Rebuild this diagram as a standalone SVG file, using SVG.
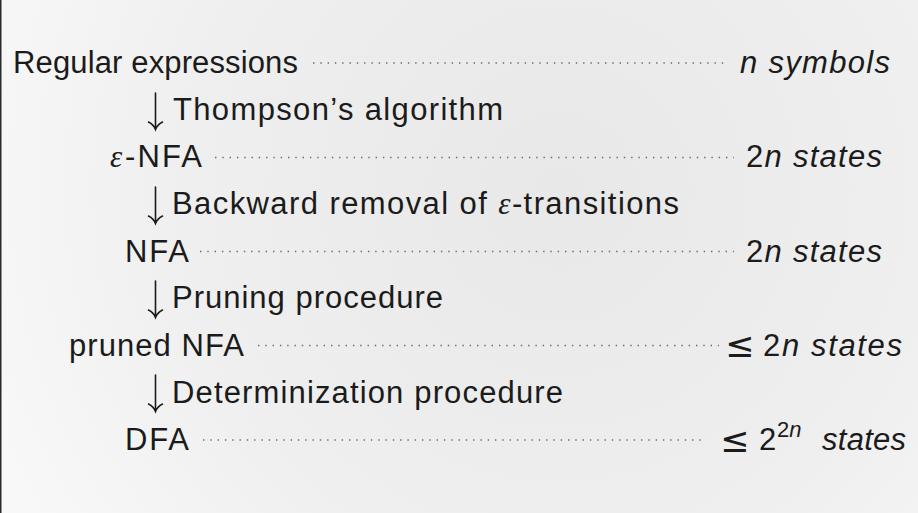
<svg xmlns="http://www.w3.org/2000/svg" width="918" height="513" viewBox="0 0 918 513">
  <defs>
    <radialGradient id="bg" cx="560" cy="190" r="620" gradientUnits="userSpaceOnUse">
      <stop offset="0" stop-color="#e8e8e8"/>
      <stop offset="0.6" stop-color="#efefef"/>
      <stop offset="1" stop-color="#f8f8f8"/>
    </radialGradient>
  </defs>
  <style>
    text { font-family: "Liberation Sans", Arial, sans-serif; font-size: 31px; fill: #1b1b1b; }
    .it { font-style: italic; }
    .eps { font-family: "Liberation Serif", "Times New Roman", serif; font-style: italic; }
    .le { font-family: "DejaVu Sans", sans-serif; font-size: 35px; }
    .sup { font-size: 22px; }
    .lead { stroke: #6a6a6a; stroke-width: 1.6; stroke-dasharray: 1.4 5.9; stroke-linecap: butt; fill: none; }
    .arr { stroke: #1b1b1b; stroke-width: 1.6; fill: none; stroke-linecap: round; }
  </style>

  <rect width="918" height="513" fill="url(#bg)"/>
  <rect x="0" y="0" width="1.5" height="513" fill="#2a2a2a"/>

  <!-- stages -->
  <g id="regex">
    <text x="13" y="72.5" textLength="285" lengthAdjust="spacing">Regular expressions</text>
    <text class="it" x="740" y="72.5" textLength="150" lengthAdjust="spacing">n symbols</text>
  </g>
  <g id="enfa">
    <text class="eps" x="110" y="167">ε</text>
    <text x="125" y="167" textLength="77" lengthAdjust="spacing">-NFA</text>
    <text x="746" y="167" textLength="136" lengthAdjust="spacing">2<tspan class="it">n states</tspan></text>
  </g>
  <g id="nfa">
    <text x="125" y="261.5" textLength="64" lengthAdjust="spacing">NFA</text>
    <text x="746" y="261.5" textLength="136" lengthAdjust="spacing">2<tspan class="it">n states</tspan></text>
  </g>
  <g id="pruned-nfa">
    <text x="69" y="355.5" textLength="175" lengthAdjust="spacing">pruned NFA</text>
    <text class="le" x="725" y="357">≤</text>
    <text x="763" y="355.5" textLength="139" lengthAdjust="spacing">2<tspan class="it">n states</tspan></text>
  </g>
  <g id="dfa">
    <text x="125" y="450" textLength="64" lengthAdjust="spacing">DFA</text>
    <text class="le" x="720" y="451.5">≤</text>
    <text x="759" y="450">2</text>
    <text class="sup" x="777" y="437">2<tspan class="it">n</tspan></text>
    <text class="it" x="822" y="450" textLength="84" lengthAdjust="spacing">states</text>
  </g>

  <!-- dotted leaders from each stage to its size -->
  <g id="leaders">
    <line class="lead" x1="313" y1="63" x2="729" y2="63"/>
    <line class="lead" x1="215" y1="157.5" x2="734" y2="157.5"/>
    <line class="lead" x1="200" y1="251.5" x2="734" y2="251.5"/>
    <line class="lead" x1="258" y1="345.5" x2="719" y2="345.5"/>
    <line class="lead" x1="203" y1="440" x2="706" y2="440"/>
  </g>

  <!-- transformation steps -->
  <g id="connectors">
    <g id="step-thompson">
      <path class="arr" d="M155.5,93 V129.5 M148.5,122 Q153.5,124.5 155.5,129.5 Q157.5,124.5 162.5,122"/>
      <text x="173" y="119.7" textLength="330" lengthAdjust="spacing">Thompson’s algorithm</text>
    </g>
    <g id="step-backward">
      <path class="arr" d="M155.5,187 V223.5 M148.5,216 Q153.5,218.5 155.5,223.5 Q157.5,218.5 162.5,216"/>
      <text x="172" y="214.2" textLength="507" lengthAdjust="spacing">Backward removal of <tspan class="eps">ε</tspan>-transitions</text>
    </g>
    <g id="step-pruning">
      <path class="arr" d="M155.5,281 V317.5 M148.5,310 Q153.5,312.5 155.5,317.5 Q157.5,312.5 162.5,310"/>
      <text x="172" y="308.3" textLength="271" lengthAdjust="spacing">Pruning procedure</text>
    </g>
    <g id="step-determinization">
      <path class="arr" d="M155.5,375 V411.5 M148.5,404 Q153.5,406.5 155.5,411.5 Q157.5,406.5 162.5,404"/>
      <text x="172" y="402.5" textLength="391" lengthAdjust="spacing">Determinization procedure</text>
    </g>
  </g>
</svg>
